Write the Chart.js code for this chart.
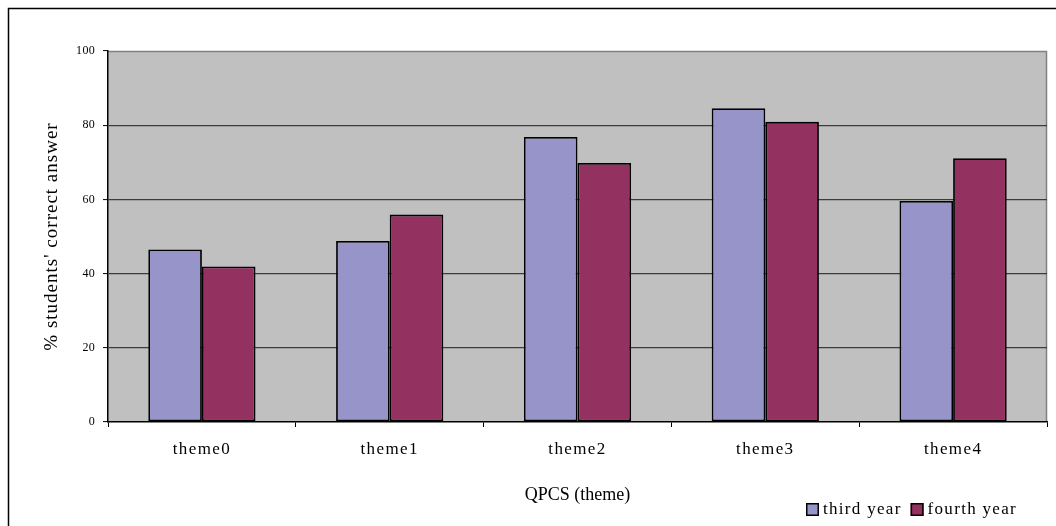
<!DOCTYPE html>
<html>
<head>
<meta charset="utf-8">
<script src="https://cdn.jsdelivr.net/npm/chart.js@4/dist/chart.umd.min.js"></script>
<style>
  html, body { margin: 0; padding: 0; background: #fff; }
  #wrap { width: 1056px; height: 526px; position: relative; }
</style>
</head>
<body>
<div id="wrap"><canvas id="c"></canvas></div>
<script>
// Categories and the share of students answering correctly, per year group
const themes = ['theme0', 'theme1', 'theme2', 'theme3', 'theme4'];
const thirdYear = [46.5, 48.8, 76.8, 84.6, 59.6];
const fourthYear = [41.9, 55.9, 69.8, 80.9, 71.1];
const seriesNames = ['third year', 'fourth year'];
const yTicks = [0, 20, 40, 60, 80, 100];

const SERIF = '"Liberation Serif", "Times New Roman", serif';

// Wrap a scale's label/title drawing so the text gets extra tracking
function spaced(scale, labelSpacing, titleSpacing) {
  if (scale._spacedPatched) return;
  scale._spacedPatched = true;
  const drawLabels = scale.drawLabels;
  scale.drawLabels = function (area) {
    this.ctx.save();
    this.ctx.letterSpacing = labelSpacing;
    drawLabels.call(this, area);
    this.ctx.restore();
  };
  const drawTitle = scale.drawTitle;
  scale.drawTitle = function () {
    this.ctx.save();
    this.ctx.letterSpacing = titleSpacing;
    drawTitle.call(this);
    this.ctx.restore();
  };
}

// Grey plot background, grey top/right edges and the outer frame
const plotDecor = {
  id: 'plotDecor',
  beforeDraw(chart) {
    const { ctx, chartArea: a } = chart;
    ctx.save();
    ctx.fillStyle = '#fff';
    ctx.fillRect(0, 0, chart.width, chart.height);
    ctx.strokeStyle = '#000';
    ctx.lineWidth = 1.5;
    ctx.strokeRect(8.5, 8.5, chart.width + 20, chart.height + 20);
    ctx.fillStyle = '#C0C0C0';
    ctx.fillRect(a.left, a.top, a.right - a.left, a.bottom - a.top);
    ctx.strokeStyle = '#808080';
    ctx.lineWidth = 1.5;
    ctx.beginPath();
    ctx.moveTo(a.left, a.top + 0.5);
    ctx.lineTo(a.right - 0.5, a.top + 0.5);
    ctx.lineTo(a.right - 0.5, a.bottom);
    ctx.stroke();
    ctx.restore();
  }
};

// Legend in the bottom-right corner
const cornerLegend = {
  id: 'cornerLegend',
  afterDraw(chart) {
    const { ctx } = chart;
    ctx.save();
    ctx.font = '17px ' + SERIF;
    ctx.letterSpacing = '1.3px';
    ctx.textBaseline = 'middle';
    ctx.textAlign = 'left';
    let x = 806;
    const y = 503;
    chart.data.datasets.forEach((ds) => {
      ctx.fillStyle = ds.backgroundColor;
      ctx.fillRect(x, y, 13, 13);
      ctx.strokeStyle = '#000';
      ctx.lineWidth = 1.5;
      ctx.strokeRect(x + 0.75, y + 0.75, 11.5, 11.5);
      ctx.fillStyle = '#000';
      ctx.fillText(ds.label, x + 17, y + 6.5);
      x += 17 + ctx.measureText(ds.label).width + 9;
    });
    ctx.restore();
  }
};

new Chart(document.getElementById('c'), {
  type: 'bar',
  data: {
    labels: themes,
    datasets: [
      { label: seriesNames[0], data: thirdYear, backgroundColor: '#9694C8' },
      { label: seriesNames[1], data: fourthYear, backgroundColor: '#933160' }
    ]
  },
  options: {
    responsive: true,
    maintainAspectRatio: false,
    animation: false,
    layout: { padding: { top: 51, right: 9, left: 0, bottom: 0 } },
    datasets: {
      bar: {
        categoryPercentage: 0.571,
        barPercentage: 1.0,
        borderColor: '#000',
        borderWidth: 1.8,
        borderSkipped: false
      }
    },
    plugins: {
      legend: { display: false },
      tooltip: { enabled: false }
    },
    scales: {
      x: {
        afterFit(scale) { scale.height = 104; spaced(scale, '1.4px', '0px'); },
        grid: {
          offset: true,
          drawOnChartArea: false,
          drawTicks: true,
          tickLength: 5,
          tickColor: '#000',
          tickWidth: 1
        },
        border: { display: true, color: '#000', width: 1.5 },
        ticks: {
          color: '#000',
          padding: 12,
          font: { family: SERIF, size: 17 }
        },
        title: {
          display: true,
          text: 'QPCS (theme)',
          color: '#000',
          font: { family: SERIF, size: 18 },
          padding: { top: 0, bottom: 20 }
        }
      },
      y: {
        min: 0,
        max: 100,
        afterFit(scale) { scale.width = 108; spaced(scale, '0.3px', '1px'); },
        afterBuildTicks(scale) { scale.ticks = yTicks.map(v => ({ value: v })); },
        grid: {
          color: (c) => (c.tick && (c.tick.value === 0 || c.tick.value === 100)) ? 'rgba(0,0,0,0)' : '#3c3c3c',
          lineWidth: 1.2,
          tickLength: 5,
          tickColor: '#000',
          tickWidth: 1
        },
        border: { display: true, color: '#000', width: 1.5 },
        ticks: {
          color: '#000',
          padding: 8,
          font: { family: SERIF, size: 12 }
        },
        title: {
          display: true,
          text: "% students' correct answer",
          color: '#000',
          font: { family: SERIF, size: 19 },
          padding: { top: 41, bottom: 0 }
        }
      }
    }
  },
  plugins: [plotDecor, cornerLegend]
});
</script>
</body>
</html>
